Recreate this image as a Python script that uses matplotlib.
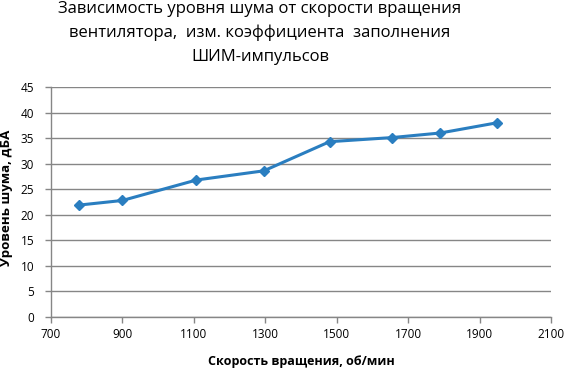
import matplotlib
matplotlib.use("Agg")
import matplotlib.pyplot as plt

rpm = [779, 900, 1107, 1296, 1480, 1654, 1790, 1949]
noise = [21.9, 22.8, 26.8, 28.6, 34.3, 35.1, 36.0, 38.0]
x_ticks = [700, 900, 1100, 1300, 1500, 1700, 1900, 2100]
y_ticks = [0, 5, 10, 15, 20, 25, 30, 35, 40, 45]
title = "Зависимость уровня шума от скорости вращения\nвентилятора,  изм. коэффициента  заполнения\nШИМ-импульсов"
xlabel = "Скорость вращения, об/мин"
ylabel = "Уровень шума, дБА"

plt.rcParams['font.family'] = ['Open Sans', 'DejaVu Sans']

fig = plt.figure(figsize=(5.65, 3.68), dpi=100)
ax = fig.add_axes([51/565, 1-317/368, 500/565, 230/368])

grid_c = '#868686'
ax.plot(rpm, noise, color='#2A7EC0', lw=2.2, marker='D', ms=5.5, zorder=3)
ax.set_xlim(700, 2100)
ax.set_ylim(0, 45)
ax.set_xticks(x_ticks)
ax.set_yticks(y_ticks)
ax.tick_params(labelsize=8.5, color=grid_c, length=4, width=1)
ax.tick_params(axis='y', pad=8)
ax.tick_params(axis='x', pad=4)
ax.yaxis.grid(True, color=grid_c, lw=1)
ax.set_axisbelow(True)
for s in ['top', 'right']:
    ax.spines[s].set_visible(False)
for s in ['left', 'bottom']:
    ax.spines[s].set_color(grid_c)
    ax.spines[s].set_linewidth(1)

ax.set_xlabel(xlabel, fontsize=9, fontweight='bold', labelpad=10)
ax.set_ylabel(ylabel, fontsize=9.6, fontweight='bold')
ax.yaxis.set_label_coords(-38/500, 0.52)
fig.text(260/565, 1-1/368, title, ha='center', va='top', fontsize=12, linespacing=1.62)

fig.savefig("out.png", dpi=100)
